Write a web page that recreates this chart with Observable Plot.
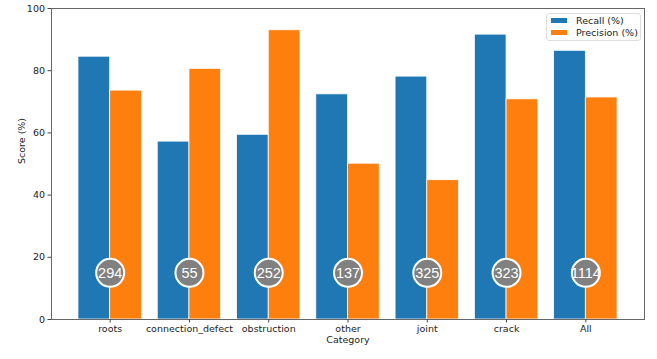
<!DOCTYPE html>
<html>
<head>
<meta charset="utf-8">
<script src="https://cdn.jsdelivr.net/npm/d3@7"></script>
<script src="https://cdn.jsdelivr.net/npm/@observablehq/plot@0.6"></script>
<style>
  html, body { margin: 0; padding: 0; background: #fff; }
  #wrap { position: relative; width: 657px; height: 359px; font-family: "DejaVu Sans", sans-serif; }
  #legend { position: absolute; left: 546px; top: 13px; width: 93px; height: 26px; border: 1px solid #ddd; border-radius: 3px; background: rgba(255,255,255,0.8); font-size: 9.5px; color: #222; padding: 0; }
  .item { position: absolute; left: 4px; display: flex; align-items: center; }
  .sw { width: 16px; height: 5px; margin-right: 9px; }
</style>
</head>
<body>
<div id="wrap"></div>
<script>
const categories = ["roots", "connection_defect", "obstruction", "other", "joint", "crack", "All"];
const recall = [84.5, 57.2, 59.4, 72.4, 78.1, 91.6, 86.4];
const precision = [73.6, 80.6, 93.0, 50.1, 44.8, 70.8, 71.4];
const counts = [294, 55, 252, 137, 325, 323, 1114];
const seriesNames = ["Recall (%)", "Precision (%)"];
const seriesColors = ["#1f77b4", "#ff7f0e"];
const yTicks = [0, 20, 40, 60, 80, 100];

const bars = [];
categories.forEach((c, i) => {
  bars.push({i, x1: i - 0.4, x2: i, value: recall[i], series: seriesNames[0]});
  bars.push({i, x1: i, x2: i + 0.4, value: precision[i], series: seriesNames[1]});
});
const badges = categories.map((c, i) => ({i, y: 15, n: counts[i]}));

const chart = Plot.plot({
  width: 657,
  height: 359,
  marginLeft: 51,
  marginRight: 13,
  marginTop: 8,
  marginBottom: 40,
  style: {fontFamily: "DejaVu Sans, sans-serif", fontSize: "9.3px", color: "#222", background: "#fff"},
  x: {type: "linear", domain: [-0.74, 6.74]},
  y: {domain: [0, 100]},
  color: {domain: seriesNames, range: seriesColors},
  marks: [
    Plot.rect(bars, {x1: "x1", x2: "x2", y1: 0, y2: "value", fill: "series", stroke: "white", strokeWidth: 0.8}),
    Plot.dot(badges, {x: "i", y: "y", r: 14, fill: "#808080", stroke: "white", strokeWidth: 2}),
    Plot.text(badges, {x: "i", y: "y", text: d => String(d.n), fill: "white", fontSize: 14.5, fontFamily: "Liberation Sans, Arial, sans-serif", dy: 0.5}),
    Plot.frame({stroke: "#666", strokeWidth: 1}),
    Plot.axisY({ticks: yTicks, tickSize: 3.5, tickPadding: 3, label: null, fontSize: 9.5, stroke: "#444"}),
    Plot.axisX({ticks: categories.map((c, i) => i), tickFormat: i => categories[i], tickSize: 3.5, tickPadding: 2, label: null, fontSize: 9.5, stroke: "#444"}),
    Plot.text(["Score (%)"], {frameAnchor: "left", dx: -30, rotate: -90, fontSize: 9.5}),
    Plot.text(["Category"], {frameAnchor: "bottom", dy: 23, fontSize: 9.5})
  ]
});

const wrap = document.getElementById("wrap");
wrap.appendChild(chart);
const legend = document.createElement("div");
legend.id = "legend";
seriesNames.forEach((name, k) => {
  const item = document.createElement("div");
  item.className = "item";
  item.style.top = (k === 0 ? 1 : 13) + "px";
  const sw = document.createElement("div");
  sw.className = "sw";
  sw.style.background = seriesColors[k];
  const lab = document.createElement("span");
  lab.textContent = name;
  item.appendChild(sw);
  item.appendChild(lab);
  legend.appendChild(item);
});
wrap.appendChild(legend);
</script>
</body>
</html>
